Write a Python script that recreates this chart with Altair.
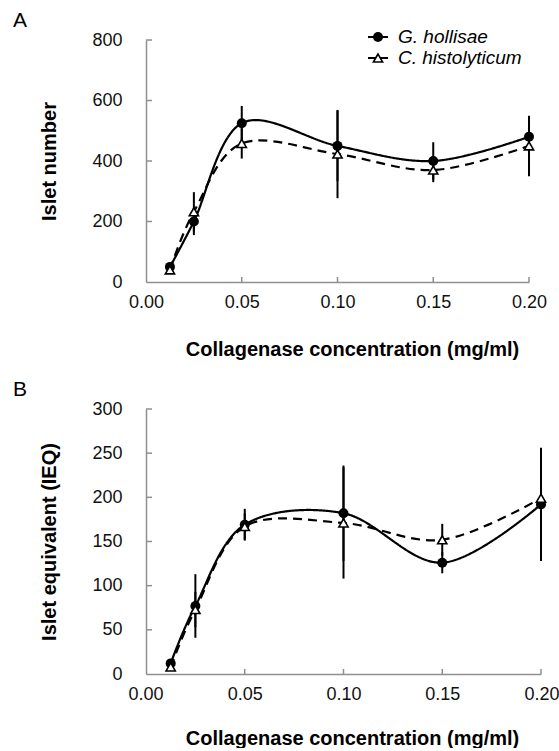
import altair as alt
import pandas as pd

# ---------------- data ----------------
conc = [0.0125, 0.025, 0.05, 0.10, 0.15, 0.20]
series_names = ["G. hollisae", "C. histolyticum"]

# Panel A: islet number
a_g_mean = [50, 200, 525, 450, 400, 480]
a_g_err = [10, 45, 57, 116, 62, 69]
a_c_mean = [40, 232, 458, 423, 370, 450]
a_c_err = [8, 65, 50, 146, 40, 100]

# Panel B: islet equivalent
b_g_mean = [12, 77, 169, 182, 126, 192]
b_g_err = [3, 36, 18, 54, 12, 64]
b_c_mean = [8, 73, 167, 171, 152, 199]
b_c_err = [3, 20, 15, 63, 18, 40]

x_ticks = [0.00, 0.05, 0.10, 0.15, 0.20]
a_y_ticks = [0, 200, 400, 600, 800]
b_y_ticks = [0, 50, 100, 150, 200, 250, 300]

x_title = "Collagenase concentration (mg/ml)"
a_y_title = "Islet number"
b_y_title = "Islet equivalent (IEQ)"

FONT = "Liberation Sans"
AXIS_GREY = "#8f8f8f"


def long_df(g_mean, g_err, c_mean, c_err):
    rows = []
    for i, x in enumerate(conc):
        rows.append(dict(conc=x, series=series_names[0], mean=g_mean[i],
                         lo=g_mean[i] - g_err[i], hi=g_mean[i] + g_err[i]))
        rows.append(dict(conc=x, series=series_names[1], mean=c_mean[i],
                         lo=c_mean[i] - c_err[i], hi=c_mean[i] + c_err[i]))
    return pd.DataFrame(rows)


def panel(df, ymax, yticks, ytitle, letter, w, h, legend=False, flush=False, xtitle_y=73):
    xs = alt.Scale(domain=[0, 0.2], nice=False, zero=False)
    ys = alt.Scale(domain=[0, ymax], nice=False)
    x_axis_kw = dict(values=x_ticks, format=".2f", title=x_title, tickSize=0,
                     labelPadding=11, titleX=206, titleY=xtitle_y,
                     titleBaseline="alphabetic", titleAlign="center")
    if flush:
        x_axis_kw.update(labelFlush=True, labelFlushOffset=18)
    else:
        x_axis_kw.update(labelFlush=False)
    x_axis = alt.Axis(**x_axis_kw)
    y_axis = alt.Axis(values=yticks, title=ytitle, tickSize=0, labelPadding=24,
                      titleX=-91, titleY=h / 2, titleAngle=-90,
                      titleBaseline="alphabetic", titleAlign="center")
    X = lambda: alt.X("conc:Q", scale=xs, axis=x_axis)
    Y = lambda f="mean": alt.Y(f"{f}:Q", scale=ys, axis=y_axis)

    base = alt.Chart(df)
    lines = base.mark_line(interpolate="cardinal", color="black", strokeWidth=2.2).encode(
        x=X(), y=Y(),
        strokeDash=alt.StrokeDash("series:N",
                                  scale=alt.Scale(domain=series_names, range=[[1, 0], [9, 6]]),
                                  legend=None),
        detail="series:N",
    )
    errs = base.mark_rule(color="black", strokeWidth=2).encode(
        x=X(), y=Y("lo"), y2="hi:Q"
    )
    circles = base.transform_filter(alt.datum.series == series_names[0]).mark_point(
        shape="circle", filled=True, color="black", size=100, opacity=1
    ).encode(x=X(), y=Y())
    tris = base.transform_filter(alt.datum.series == series_names[1]).mark_point(
        shape="triangle-up", filled=True, fill="white", stroke="black",
        strokeWidth=1.6, size=85, opacity=1
    ).encode(x=X(), y=Y())

    xt = alt.Chart(pd.DataFrame({"conc": x_ticks[1:]})).mark_rule(
        color=AXIS_GREY, strokeWidth=1.5
    ).encode(x=X(), y=alt.value(h), y2=alt.value(h - 5))
    yt = alt.Chart(pd.DataFrame({"mean": yticks[1:]})).mark_rule(
        color=AXIS_GREY, strokeWidth=1.5
    ).encode(y=Y(), x=alt.value(0), x2=alt.value(6))

    lab = alt.Chart(pd.DataFrame({"label": [letter]})).mark_text(
        align="left", baseline="alphabetic", fontSize=21, font=FONT, color="black"
    ).encode(text="label:N", x=alt.value(-133), y=alt.value(-13))

    layers = [lines, xt, yt, errs, circles, tris, lab]

    if legend:
        rows_y = [-3, 18]
        for i, name in enumerate(series_names):
            ld = pd.DataFrame({"label": [name]})
            lc = alt.Chart(ld)
            layers.append(lc.mark_rule(color="black", strokeWidth=2).encode(
                x=alt.value(222), x2=alt.value(242), y=alt.value(rows_y[i])))
            if i == 0:
                layers.append(lc.mark_point(shape="circle", filled=True, color="black",
                                            size=100, opacity=1).encode(
                    x=alt.value(232), y=alt.value(rows_y[i])))
            else:
                layers.append(lc.mark_point(shape="triangle-up", filled=True, fill="white",
                                            stroke="black", strokeWidth=1.6, size=85,
                                            opacity=1).encode(
                    x=alt.value(232), y=alt.value(rows_y[i])))
            layers.append(lc.mark_text(align="left", baseline="middle", fontSize=19,
                                       font=FONT, fontStyle="italic", color="black").encode(
                text="label:N", x=alt.value(252), y=alt.value(rows_y[i])))

    return alt.layer(*layers).properties(width=w, height=h)


dfa = long_df(a_g_mean, a_g_err, a_c_mean, a_c_err)
dfb = long_df(b_g_mean, b_g_err, b_c_mean, b_c_err)

pa = panel(dfa, 800, a_y_ticks, a_y_title, "A", 383, 242, legend=True, xtitle_y=73)
pb = panel(dfb, 300, b_y_ticks, b_y_title, "B", 395, 265, flush=True, xtitle_y=70)

chart = alt.vconcat(pa, pb, spacing=20).properties(
    padding={"left": 13, "top": 10, "right": 0, "bottom": 0}
).configure_view(stroke=None).configure_axis(
    grid=False,
    domainColor=AXIS_GREY,
    domainWidth=1.5,
    labelFont=FONT,
    labelFontSize=18,
    labelColor="#111111",
    titleFont=FONT,
    titleFontSize=20,
    titleFontWeight="bold",
    titleColor="black",
)

chart.save("out.html", embed_options={"renderer": "svg", "actions": False})
